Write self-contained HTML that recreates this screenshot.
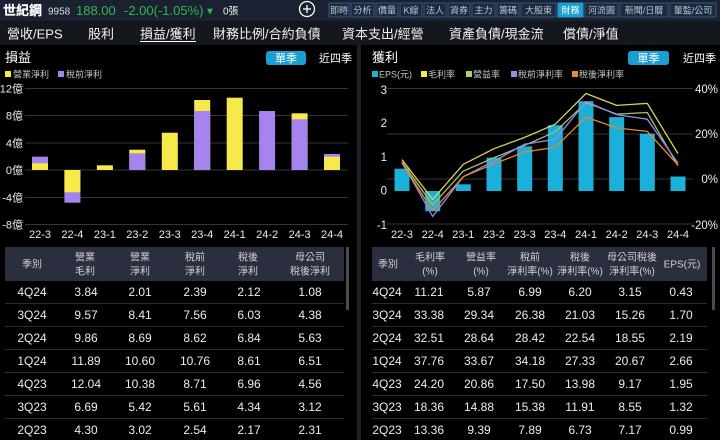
<!DOCTYPE html>
<html><head><meta charset="utf-8"><style>
html,body{margin:0;padding:0;background:#000;width:720px;height:440px;overflow:hidden}
svg{display:block}
text{font-family:"Liberation Sans","Noto Sans CJK TC",sans-serif}
</style></head><body>
<svg width="720" height="440" viewBox="0 0 720 440" xmlns="http://www.w3.org/2000/svg">
<rect width="720" height="440" fill="#000"/>
<!-- top bar -->
<rect x="0" y="0" width="720" height="21" fill="#1a2231"/>
<rect x="0" y="21" width="720" height="24" fill="#14171d"/>
<text x="3" y="15" font-size="13" font-weight="bold" fill="#fff" stroke="#fff" stroke-width="0.2">世紀鋼</text>
<text x="48" y="14.5" font-size="10" fill="#ddd">9958</text>
<text x="76" y="15" font-size="13" fill="#35b64c">188.00</text>
<text x="124" y="15" font-size="13" fill="#35b64c">-2.00(-1.05%)</text>
<text x="205" y="14.5" font-size="10" fill="#35b64c">▼</text>
<text x="223" y="14.5" font-size="10" fill="#eee">0張</text>
<circle cx="307" cy="9" r="7.5" fill="none" stroke="#fff" stroke-width="1.3"/>
<line x1="303" y1="9" x2="311" y2="9" stroke="#fff" stroke-width="1.3"/>
<line x1="307" y1="5" x2="307" y2="13" stroke="#fff" stroke-width="1.3"/>
<g font-size="9" fill="#b8c6d6" text-anchor="middle">
<rect x="329" y="3" width="20" height="14" fill="#1c2b3f" stroke="#34557a" stroke-width="1"/><text x="339" y="13.5">即時</text>
<rect x="351" y="3" width="23" height="14" fill="#1c2b3f" stroke="#34557a" stroke-width="1"/><text x="362.5" y="13.5">分析</text>
<rect x="376" y="3" width="22" height="14" fill="#1c2b3f" stroke="#34557a" stroke-width="1"/><text x="387" y="13.5">價量</text>
<rect x="400" y="3" width="22" height="14" fill="#1c2b3f" stroke="#34557a" stroke-width="1"/><text x="411" y="13.5">K線</text>
<rect x="424" y="3" width="22" height="14" fill="#1c2b3f" stroke="#34557a" stroke-width="1"/><text x="435" y="13.5">法人</text>
<rect x="448" y="3" width="22" height="14" fill="#1c2b3f" stroke="#34557a" stroke-width="1"/><text x="459" y="13.5">資券</text>
<rect x="472" y="3" width="23" height="14" fill="#1c2b3f" stroke="#34557a" stroke-width="1"/><text x="483.5" y="13.5">主力</text>
<rect x="497" y="3" width="22" height="14" fill="#1c2b3f" stroke="#34557a" stroke-width="1"/><text x="508" y="13.5">籌碼</text>
<rect x="521" y="3" width="35" height="14" fill="#1c2b3f" stroke="#34557a" stroke-width="1"/><text x="538.5" y="13.5">大股東</text>
<rect x="558" y="3" width="25" height="14" fill="#1b9fd3" stroke="#1b9fd3" stroke-width="1"/><text x="570.5" y="13.5" fill="#fff">財務</text>
<rect x="585" y="3" width="33" height="14" fill="#1c2b3f" stroke="#34557a" stroke-width="1"/><text x="601.5" y="13.5">河流圖</text>
<rect x="620" y="3" width="48" height="14" fill="#1c2b3f" stroke="#34557a" stroke-width="1"/><text x="644" y="13.5">新聞/日曆</text>
<rect x="670" y="3" width="46" height="14" fill="#1c2b3f" stroke="#34557a" stroke-width="1"/><text x="693" y="13.5">董監/公司</text>
</g>
<!-- nav row -->
<g font-size="13" fill="#f2f2f2">
<text x="7" y="38.5">營收/EPS</text>
<text x="88" y="38.5">股利</text>
<text x="140" y="38.5">損益/獲利</text>
<text x="213" y="38.5">財務比例/合約負債</text>
<text x="342" y="38.5">資本支出/經營</text>
<text x="449" y="38.5">資產負債/現金流</text>
<text x="563" y="38.5">償債/淨值</text>
</g>
<line x1="140" y1="41.5" x2="196" y2="41.5" stroke="#fff" stroke-width="1"/>
<!-- panel separator -->
<rect x="357" y="45" width="4" height="395" fill="#1d2027"/>

<!-- LEFT PANEL -->
<text x="5" y="62" font-size="13" fill="#fff">損益</text>
<rect x="266" y="51" width="40" height="14" rx="3" fill="#1b9fd3"/>
<text x="286" y="62" font-size="11" fill="#fff" text-anchor="middle">單季</text>
<text x="319" y="62" font-size="11" fill="#fff">近四季</text>
<rect x="5" y="71" width="6" height="6" fill="#f6e94a"/>
<text x="13" y="77.5" font-size="9" fill="#c8c8c8">營業淨利</text>
<rect x="58" y="71" width="6" height="6" fill="#a684ee"/>
<text x="66" y="77.5" font-size="9" fill="#c8c8c8">稅前淨利</text>

<g stroke="#363636" stroke-width="1">
<line x1="25" y1="88.5" x2="348" y2="88.5"/>
<line x1="25" y1="115.5" x2="348" y2="115.5"/>
<line x1="25" y1="143" x2="348" y2="143"/>
<line x1="25" y1="170" x2="348" y2="170"/>
<line x1="25" y1="197.5" x2="348" y2="197.5"/>
<line x1="25" y1="224.5" x2="348" y2="224.5"/>
</g>
<g font-size="11" fill="#ececec" text-anchor="end">
<text x="23" y="92.5">12億</text>
<text x="23" y="119.5">8億</text>
<text x="23" y="147">4億</text>
<text x="23" y="174">0億</text>
<text x="23" y="201.5">-4億</text>
<text x="23" y="228.5">-8億</text>
</g>
<g>
<rect x="32" y="156.7" width="16" height="13.3" fill="#a684ee"/>
<rect x="32" y="163.3" width="16" height="6.7" fill="#f6e94a"/>
<rect x="64.4" y="170" width="16" height="32.7" fill="#a684ee"/>
<rect x="64.4" y="170" width="16" height="22.3" fill="#f6e94a"/>
<rect x="96.9" y="165.3" width="16" height="4.7" fill="#f6e94a"/>
<rect x="129.3" y="149.7" width="16" height="20.3" fill="#f6e94a"/>
<rect x="129.3" y="153.3" width="16" height="16.7" fill="#a684ee"/>
<rect x="161.8" y="132.7" width="16" height="37.3" fill="#f6e94a"/>
<rect x="194.2" y="100" width="16" height="70" fill="#f6e94a"/>
<rect x="194.2" y="111" width="16" height="59" fill="#a684ee"/>
<rect x="226.7" y="97.7" width="16" height="72.3" fill="#f6e94a"/>
<rect x="259.1" y="111" width="16" height="59" fill="#a684ee"/>
<rect x="291.6" y="113.3" width="16" height="56.7" fill="#f6e94a"/>
<rect x="291.6" y="119.3" width="16" height="50.7" fill="#a684ee"/>
<rect x="324" y="154" width="16" height="16" fill="#a684ee"/>
<rect x="324" y="156.7" width="16" height="13.3" fill="#f6e94a"/>
</g>
<g font-size="11" fill="#ececec" text-anchor="middle">
<text x="40" y="238">22-3</text><text x="72.4" y="238">22-4</text><text x="104.9" y="238">23-1</text>
<text x="137.3" y="238">23-2</text><text x="169.8" y="238">23-3</text><text x="202.2" y="238">23-4</text>
<text x="234.7" y="238">24-1</text><text x="267.1" y="238">24-2</text><text x="299.6" y="238">24-3</text>
<text x="332" y="238">24-4</text>
</g>

<!-- left table -->
<rect x="5" y="247" width="339" height="34" fill="#2b2e3e"/>
<rect x="346" y="247" width="3" height="63" fill="#4a4a4e"/>
<g font-size="10" fill="#d2d2da" text-anchor="middle">
<text x="32" y="267.5">季別</text>
<text x="85" y="260.5">營業</text><text x="85" y="274.5">毛利</text>
<text x="140" y="260.5">營業</text><text x="140" y="274.5">淨利</text>
<text x="195" y="260.5">稅前</text><text x="195" y="274.5">淨利</text>
<text x="248" y="260.5">稅後</text><text x="248" y="274.5">淨利</text>
<text x="310" y="260.5">母公司</text><text x="310" y="274.5">稅後淨利</text>
</g>
<g stroke="#2a2a2f" stroke-width="1">
<line x1="5" y1="303.5" x2="344" y2="303.5"/><line x1="5" y1="326.5" x2="344" y2="326.5"/>
<line x1="5" y1="349.5" x2="344" y2="349.5"/><line x1="5" y1="372.5" x2="344" y2="372.5"/>
<line x1="5" y1="395.5" x2="344" y2="395.5"/><line x1="5" y1="418.5" x2="344" y2="418.5"/>
</g>
<g font-size="12" fill="#ececec" text-anchor="middle">
<text x="32" y="296">4Q24</text><text x="86" y="296">3.84</text><text x="140" y="296">2.01</text><text x="195" y="296">2.39</text><text x="249" y="296">2.12</text><text x="310" y="296">1.08</text>
<text x="32" y="319">3Q24</text><text x="86" y="319">9.57</text><text x="140" y="319">8.41</text><text x="195" y="319">7.56</text><text x="249" y="319">6.03</text><text x="310" y="319">4.38</text>
<text x="32" y="342">2Q24</text><text x="86" y="342">9.86</text><text x="140" y="342">8.69</text><text x="195" y="342">8.62</text><text x="249" y="342">6.84</text><text x="310" y="342">5.63</text>
<text x="32" y="365">1Q24</text><text x="86" y="365">11.89</text><text x="140" y="365">10.60</text><text x="195" y="365">10.76</text><text x="249" y="365">8.61</text><text x="310" y="365">6.51</text>
<text x="32" y="388">4Q23</text><text x="86" y="388">12.04</text><text x="140" y="388">10.38</text><text x="195" y="388">8.71</text><text x="249" y="388">6.96</text><text x="310" y="388">4.56</text>
<text x="32" y="411">3Q23</text><text x="86" y="411">6.69</text><text x="140" y="411">5.42</text><text x="195" y="411">5.61</text><text x="249" y="411">4.34</text><text x="310" y="411">3.12</text>
<text x="32" y="434">2Q23</text><text x="86" y="434">4.30</text><text x="140" y="434">3.02</text><text x="195" y="434">2.54</text><text x="249" y="434">2.17</text><text x="310" y="434">2.31</text>
</g>

<!-- RIGHT PANEL -->
<text x="372" y="62" font-size="13" fill="#fff">獲利</text>
<rect x="628" y="51" width="41" height="14" rx="3" fill="#1b9fd3"/>
<text x="648.5" y="62" font-size="11" fill="#fff" text-anchor="middle">單季</text>
<text x="683" y="62" font-size="11" fill="#fff">近四季</text>
<g font-size="9" fill="#c8c8c8">
<rect x="372" y="71" width="6" height="6" fill="#1bb0da"/><text x="379" y="77.5">EPS(元)</text>
<rect x="421" y="71" width="6" height="6" fill="#f6e94a"/><text x="428" y="77.5">毛利率</text>
<rect x="466" y="71" width="6" height="6" fill="#a8d46a"/><text x="473" y="77.5">營益率</text>
<rect x="511" y="71" width="6" height="6" fill="#a684ee"/><text x="518" y="77.5">稅前淨利率</text>
<rect x="572" y="71" width="6" height="6" fill="#f08a24"/><text x="579" y="77.5">稅後淨利率</text>
</g>
<g stroke="#363636" stroke-width="1">
<line x1="387" y1="88.5" x2="693" y2="88.5"/>
<line x1="387" y1="134" x2="693" y2="134"/>
<line x1="387" y1="179" x2="693" y2="179"/>
<line x1="387" y1="224" x2="693" y2="224"/>
</g>
<g font-size="11.5" fill="#ececec" text-anchor="end">
<text x="387" y="94">3</text>
<text x="387" y="127">2</text>
<text x="387" y="161">1</text>
<text x="387" y="194.5">0</text>
<text x="387" y="229">-1</text>
<text x="718" y="93">40%</text>
<text x="718" y="138">20%</text>
<text x="718" y="183">0%</text>
<text x="718" y="229">-20%</text>
</g>
<g fill="#1bb0da">
<rect x="394.5" y="168.7" width="15" height="22.3"/>
<rect x="425.2" y="191" width="15" height="20.3"/>
<rect x="455.8" y="184.3" width="15" height="6.7"/>
<rect x="486.5" y="157.6" width="15" height="33.4"/>
<rect x="517.2" y="146.4" width="15" height="44.6"/>
<rect x="547.8" y="125.2" width="15" height="65.8"/>
<rect x="578.5" y="101.2" width="15" height="89.8"/>
<rect x="609.2" y="117.1" width="15" height="73.9"/>
<rect x="639.8" y="133.6" width="15" height="57.4"/>
<rect x="670.5" y="176.5" width="15" height="14.5"/>
</g>
<g fill="none" stroke-width="1.3" stroke-linejoin="round">
<polyline stroke="#d9cf68" points="402,159.7 432.7,199.4 463.3,164.3 494,148.7 524.7,137.4 555.3,124.2 586,93.5 616.7,105.4 647.3,103.4 678,153.6"/>
<polyline stroke="#9fc46c" points="402,162 432.7,205 463.3,171.1 494,157.7 524.7,145.3 555.3,131.8 586,102.7 616.7,114.1 647.3,112.5 678,165.7"/>
<polyline stroke="#9a88f0" points="402,162 432.7,216.4 463.3,176.7 494,161.1 524.7,144.2 555.3,139.4 586,101.6 616.7,114.6 647.3,119.2 678,163.2"/>
<polyline stroke="#e8862c" points="402,163.1 432.7,210.7 463.3,176.7 494,163.8 524.7,152 555.3,147.3 586,117.1 616.7,127.9 647.3,131.4 678,165"/>
</g>
<g font-size="11" fill="#ececec" text-anchor="middle">
<text x="402" y="238">22-3</text><text x="432.7" y="238">22-4</text><text x="463.3" y="238">23-1</text>
<text x="494" y="238">23-2</text><text x="524.7" y="238">23-3</text><text x="555.3" y="238">23-4</text>
<text x="586" y="238">24-1</text><text x="616.7" y="238">24-2</text><text x="647.3" y="238">24-3</text>
<text x="678" y="238">24-4</text>
</g>

<!-- right table -->
<rect x="372" y="247" width="335" height="34" fill="#2b2e3e"/>
<rect x="712" y="247" width="3" height="63" fill="#4a4a4e"/>
<g font-size="10" fill="#d2d2da" text-anchor="middle">
<text x="388" y="267.5">季別</text>
<text x="430" y="260.5">毛利率</text><text x="430" y="274.5">(%)</text>
<text x="481" y="260.5">營益率</text><text x="481" y="274.5">(%)</text>
<text x="530" y="260.5">稅前</text><text x="530" y="274.5">淨利率(%)</text>
<text x="580" y="260.5">稅後</text><text x="580" y="274.5">淨利率(%)</text>
<text x="632" y="260.5">母公司稅後</text><text x="632" y="274.5">淨利率(%)</text>
<text x="682" y="267.5">EPS(元)</text>
</g>
<g stroke="#2a2a2f" stroke-width="1">
<line x1="372" y1="303.5" x2="707" y2="303.5"/><line x1="372" y1="326.5" x2="707" y2="326.5"/>
<line x1="372" y1="349.5" x2="707" y2="349.5"/><line x1="372" y1="372.5" x2="707" y2="372.5"/>
<line x1="372" y1="395.5" x2="707" y2="395.5"/><line x1="372" y1="418.5" x2="707" y2="418.5"/>
</g>
<g font-size="12" fill="#ececec" text-anchor="middle">
<text x="387" y="296">4Q24</text><text x="429" y="296">11.21</text><text x="479" y="296">5.87</text><text x="530" y="296">6.99</text><text x="580" y="296">6.20</text><text x="630" y="296">3.15</text><text x="681" y="296">0.43</text>
<text x="387" y="319">3Q24</text><text x="429" y="319">33.38</text><text x="479" y="319">29.34</text><text x="530" y="319">26.38</text><text x="580" y="319">21.03</text><text x="630" y="319">15.26</text><text x="681" y="319">1.70</text>
<text x="387" y="342">2Q24</text><text x="429" y="342">32.51</text><text x="479" y="342">28.64</text><text x="530" y="342">28.42</text><text x="580" y="342">22.54</text><text x="630" y="342">18.55</text><text x="681" y="342">2.19</text>
<text x="387" y="365">1Q24</text><text x="429" y="365">37.76</text><text x="479" y="365">33.67</text><text x="530" y="365">34.18</text><text x="580" y="365">27.33</text><text x="630" y="365">20.67</text><text x="681" y="365">2.66</text>
<text x="387" y="388">4Q23</text><text x="429" y="388">24.20</text><text x="479" y="388">20.86</text><text x="530" y="388">17.50</text><text x="580" y="388">13.98</text><text x="630" y="388">9.17</text><text x="681" y="388">1.95</text>
<text x="387" y="411">3Q23</text><text x="429" y="411">18.36</text><text x="479" y="411">14.88</text><text x="530" y="411">15.38</text><text x="580" y="411">11.91</text><text x="630" y="411">8.55</text><text x="681" y="411">1.32</text>
<text x="387" y="434">2Q23</text><text x="429" y="434">13.36</text><text x="479" y="434">9.39</text><text x="530" y="434">7.89</text><text x="580" y="434">6.73</text><text x="630" y="434">7.17</text><text x="681" y="434">0.99</text>
</g>
</svg>
</body></html>
